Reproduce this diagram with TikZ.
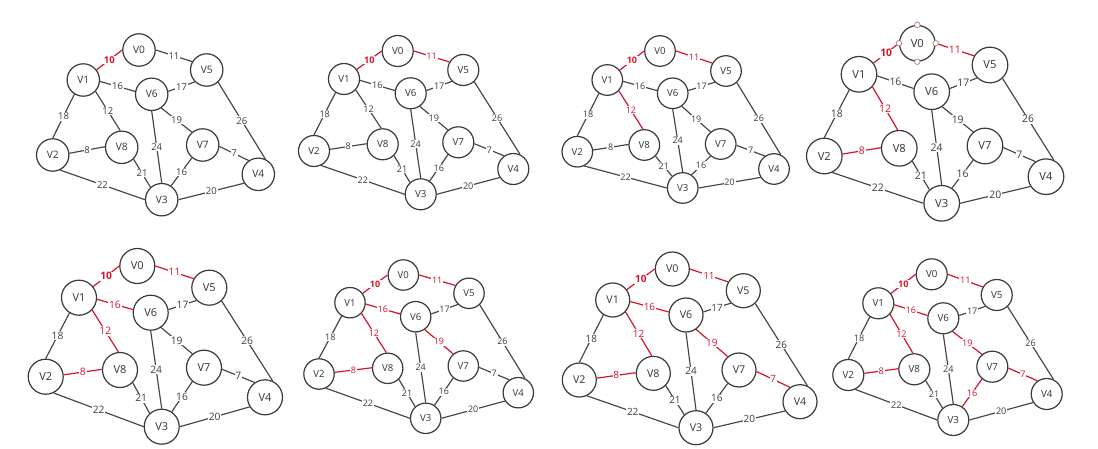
\documentclass[tikz,border=0pt]{standalone}
\usepackage{fontspec}
\setmainfont{Open Sans}
\definecolor{ndc}{HTML}{3A3A3A}
\definecolor{edc}{HTML}{444444}
\definecolor{txc}{HTML}{333333}
\definecolor{lbc}{HTML}{3C3C3C}
\definecolor{redc}{HTML}{D8142C}
\definecolor{anc}{HTML}{B07E7E}
\tikzset{
  sz/.code={\pgfmathsetmacro\Rr{#1}\pgfmathsetmacro\Fn{0.61*#1}\pgfmathsetmacro\Fe{0.57*#1}},
  vx/.style={circle, draw=ndc, line width=1.2pt, fill=white, inner sep=0pt,
    minimum size=2*\Rr pt-1pt, text=txc, font=\fontsize{\Fn}{\Fn}\selectfont},
  lb/.style={fill=white, inner sep=0.8pt, midway, font=\fontsize{\Fe}{\Fe}\selectfont},
  ge/.style={draw=edc, line width=1.15pt, text=lbc},
  re/.style={draw=redc, line width=1.2pt, text=redc},
  e01/.style={ge}, e02/.style={ge}, e03/.style={ge}, e04/.style={ge},
  e05/.style={ge}, e06/.style={ge}, e07/.style={ge}, e08/.style={ge},
  ancdot/.style={draw=anc, fill=white, line width=0.7pt},
}
\newcommand\drawgraph[9]{%
  \node[vx] (V0) at (#1) {V0};
  \node[vx] (V1) at (#2) {V1};
  \node[vx] (V2) at (#3) {V2};
  \node[vx] (V3) at (#4) {V3};
  \node[vx] (V4) at (#5) {V4};
  \node[vx] (V5) at (#6) {V5};
  \node[vx] (V6) at (#7) {V6};
  \node[vx] (V7) at (#8) {V7};
  \node[vx] (V8) at (#9) {V8};
  \draw[e01] (V0.west) -- node[lb]{\textbf{10}} (V1);
  \draw[e02] (V0.east) -- node[lb]{11} (V5.150);
  \draw[e03] (V1.-43) -- node[lb]{12} (V8.95);
  \draw[e04] (V2.6) -- node[lb]{8} (V8.178);
  \draw[e05] (V1.-5) -- node[lb]{16} (V6.170);
  \draw[e06] (V6.-55) -- node[lb]{19} (V7.130);
  \draw[e07] (V7.-5) -- node[lb]{7} (V4.125);
  \draw[e08] (V7.230) -- node[lb]{16} (V3.56);
  \draw[ge] (V1.238) -- node[lb]{18} (V2.north);
  \draw[ge] (V6.10) -- node[lb]{17} (V5.225);
  \draw[ge] (V5.-47) -- node[lb]{26} (V4.65);
  \draw[ge] (V6.south) -- node[lb]{24} (V3.north);
  \draw[ge] (V8.-45) -- node[lb]{21} (V3.132);
  \draw[ge] (V2.-64) -- node[lb]{22} (V3.west);
  \draw[ge] (V3.east) -- node[lb]{20} (V4.212);
}
\begin{document}
\begin{tikzpicture}[x=1pt,y=-1pt]
\fill[white] (0,0) rectangle (1098,449);
\useasboundingbox (0,0) rectangle (1098,449);
% panel 1
\begin{scope}[name prefix=p1-, sz=16.7, e01/.style={re}]
\drawgraph{139,50}{83.3,80}{52.7,155}{161.7,199.7}{258.3,174.3}{206.7,70}{151.7,94.3}{202.7,145}{121.7,147.3}
\end{scope}
% panel 2
\begin{scope}[name prefix=p2-, sz=16, e01/.style={re}, e02/.style={re}]
\drawgraph{397.7,51}{344,79}{314,151}{420.7,194.3}{513.3,169}{463.3,70}{410.7,93.3}{458.3,142.3}{382.7,144.3}
\end{scope}
% panel 3
\begin{scope}[name prefix=p3-, sz=15.8, e01/.style={re}, e02/.style={re}, e03/.style={re}]
\drawgraph{660,51}{607.3,80}{577.3,151.7}{682.7,188}{774,169}{726,71}{672.7,93.3}{720.7,144}{644.3,145}
\end{scope}
% panel 4
\begin{scope}[name prefix=p4-, sz=18.3, e01/.style={re}, e02/.style={re}, e03/.style={re}, e04/.style={re}]
\drawgraph{917.3,43.3}{859,74.3}{824.3,156}{941.7,203.3}{1046,176.7}{990,65}{931.7,91.7}{985,146}{899.3,148.3}
\foreach \a in {north,east,south,west} \draw[ancdot] (V0.\a) circle (2.8pt);
\end{scope}
% panel 5
\begin{scope}[name prefix=p5-, sz=18, e01/.style={re}, e02/.style={re}, e03/.style={re}, e04/.style={re}, e05/.style={re}]
\drawgraph{137.3,266}{79,297.7}{45.7,376.7}{161.7,426.7}{265,397.3}{209.3,287.7}{150.7,312.7}{204,367.7}{120,370}
\end{scope}
% panel 6
\begin{scope}[name prefix=p6-, sz=15.7, e01/.style={re}, e02/.style={re}, e03/.style={re}, e04/.style={re}, e05/.style={re}, e06/.style={re}]
\drawgraph{403.3,275}{350,302.7}{319,374}{425.7,418.3}{518.3,392.7}{469,293.3}{415.7,316.7}{463.3,366}{387.7,368.3}
\end{scope}
% panel 7
\begin{scope}[name prefix=p7-, sz=17.5, e01/.style={re}, e02/.style={re}, e03/.style={re}, e04/.style={re}, e05/.style={re}, e06/.style={re}, e07/.style={re}]
\drawgraph{672.3,269}{612.7,300}{579.3,380}{696,427.7}{800,401.7}{743.3,290.7}{686,315}{739,370}{653.3,373.3}
\end{scope}
% panel 8
\begin{scope}[name prefix=p8-, sz=16, e01/.style={re}, e02/.style={re}, e03/.style={re}, e04/.style={re}, e05/.style={re}, e06/.style={re}, e07/.style={re}, e08/.style={re}]
\drawgraph{931.7,274.3}{878.3,303.3}{848.3,375}{953.3,420}{1046.7,394}{996.7,295}{943.3,318.3}{992.3,366.7}{914.3,369.3}
\end{scope}
\end{tikzpicture}
\end{document}
